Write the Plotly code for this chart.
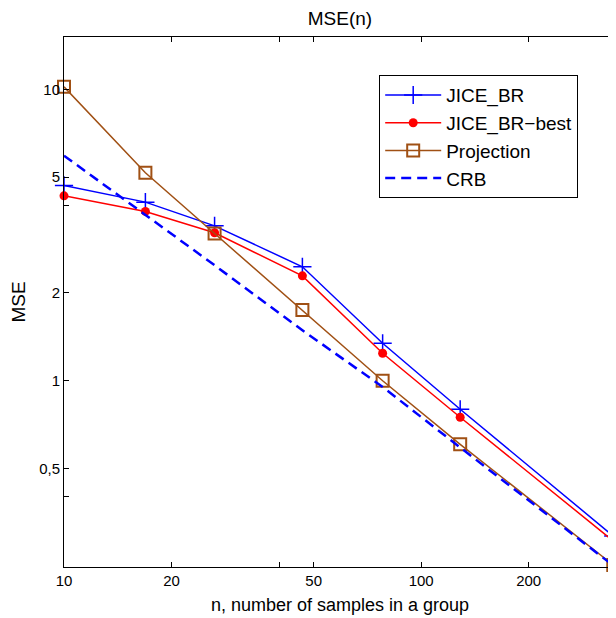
import plotly.graph_objects as go

n_vals = [10, 16.9, 26.4, 46.5, 78, 128.6, 345]
jice_br = [4.68, 4.10, 3.40, 2.46, 1.344, 0.798, 0.293]
jice_br_best = [4.31, 3.81, 3.22, 2.29, 1.242, 0.749, 0.282]
projection = [10.2, 5.17, 3.20, 1.748, 1.0, 0.605, 0.233]
crb = [5.92, 3.71, 2.49, 1.49, 0.952, 0.59, 0.232]

x_tickvals = [10, 20, 40, 50, 100, 200]
x_ticktext = ["10", "20", "", "50", "100", "200"]
y_tickvals = [0.4, 0.5, 1, 2, 4, 5, 10]
y_ticktext = ["", "0,5", "1", "2", "", "5", "10"]

BLUE = "rgb(0,0,255)"
RED = "rgb(255,0,0)"
BROWN = "rgb(160,80,20)"
FONT = "Liberation Sans, Arial, sans-serif"

fig = go.Figure()
fig.add_trace(go.Scatter(x=n_vals, y=jice_br, name="JICE_BR", mode="lines+markers",
                         line=dict(color=BLUE, width=1.5),
                         marker=dict(symbol="cross-thin", size=13, line=dict(color=BLUE, width=1.5)),
                         cliponaxis=False))
fig.add_trace(go.Scatter(x=n_vals, y=jice_br_best, name="JICE_BR\u2212best", mode="lines+markers",
                         line=dict(color=RED, width=1.5),
                         marker=dict(symbol="circle", size=9, color=RED),
                         cliponaxis=False))
fig.add_trace(go.Scatter(x=n_vals, y=projection, name="Projection", mode="lines+markers",
                         line=dict(color=BROWN, width=1.5),
                         marker=dict(symbol="square-open", size=12, color=BROWN, line=dict(width=2)),
                         cliponaxis=False))
fig.add_trace(go.Scatter(x=n_vals, y=crb, name="CRB", mode="lines",
                         line=dict(color=BLUE, width=2.5, dash="10px,6px")))

axis_common = dict(showline=True, linecolor="black", linewidth=1, mirror="ticks",
                   ticks="inside", ticklen=5, tickcolor="black", showgrid=False,
                   zeroline=False, tickfont=dict(family=FONT, size=15, color="black"))

fig.update_xaxes(type="log", range=[1.0, 2.5455], tickmode="array",
                 tickvals=x_tickvals, ticktext=x_ticktext,
                 title=dict(text="n, number of samples in a group", font=dict(family=FONT, size=18, color="black"), standoff=10),
                 **axis_common)
fig.update_yaxes(type="log", range=[-0.6393, 1.1795], tickmode="array",
                 tickvals=y_tickvals, ticktext=y_ticktext,
                 title=dict(text="MSE", font=dict(family=FONT, size=19, color="black"), standoff=8),
                 **axis_common)

fig.update_layout(
    width=608, height=610,
    margin=dict(l=55.5, r=0, t=29, b=51),
    paper_bgcolor="white", plot_bgcolor="white",
    title=dict(text="MSE(n)", xref="container", x=0.546, xanchor="center",
               yref="container", y=0.983, yanchor="middle",
               font=dict(family=FONT, size=19, color="black")),
    legend=dict(x=0.571, y=0.928, xanchor="left", yanchor="top",
                bgcolor="white", bordercolor="black", borderwidth=1,
                font=dict(family=FONT, size=19, color="black"),
                itemwidth=56, tracegroupgap=0),
    showlegend=True,
)

fig.write_html("out.html")
